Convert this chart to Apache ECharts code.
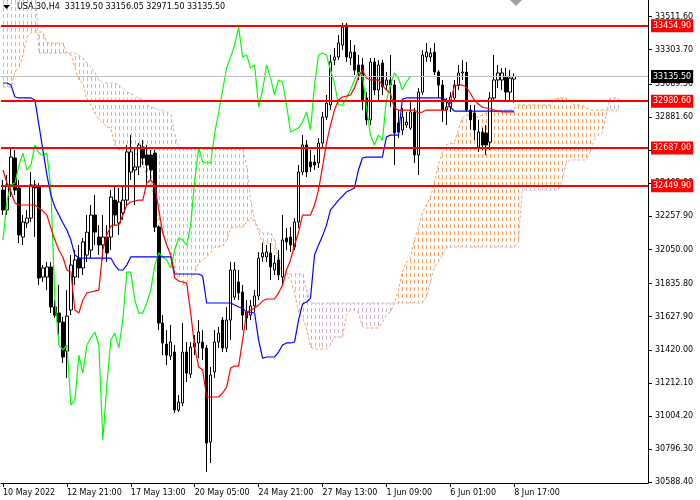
<!DOCTYPE html>
<html><head><meta charset="utf-8">
<script src="https://cdn.jsdelivr.net/npm/echarts@6/dist/echarts.min.js"></script>
<style>html,body{margin:0;padding:0;background:#fff}#c{width:700px;height:500px}</style>
</head><body><div id="c"></div>
<script>
const FONT = 'DejaVu Sans';
const symbolName = 'USA.30,H4';
const timeLabels = ['10 May 2022','12 May 21:00','17 May 13:00','20 May 05:00','24 May 21:00','27 May 13:00','1 Jun 09:00','6 Jun 01:00','8 Jun 17:00'];
const priceTicks = [30588.4,30796.3,31004.2,31212.1,31420.0,31627.9,31835.8,32050.0,32257.9,32465.8,32673.7,32881.6,33089.5,33303.7,33511.6];
const levels = [33454.90, 32980.60, 32687.00, 32449.90];
const lastPrice = 33135.50;

const opens = [32423,32298,32455,32624,32436,32128,32216,32247,32455,32442,
31877,31877,31940,31689,31651,31594,31412,31670,31877,31996,
31934,32015,32046,32266,32128,32078,32128,32128,32360,32216,
32279,32360,32536,32549,32568,32693,32643,32643,32655,32191,
31588,31456,31381,31406,31042,31086,31406,31268,31437,31463,
31469,31431,30841,31281,31469,31607,31431,31607,31751,31846,
31783,31657,31638,31695,31758,32003,32003,32028,31921,31984,
31877,32122,32128,32065,32222,32536,32706,32599,32599,32593,
32718,32881,32957,33239,33258,33333,33459,33252,33289,33208,
33208,33001,32863,33227,33051,33220,33082,33114,33082,32844,
32800,32831,32812,32913,32643,33038,33258,33258,33289,33164,
33082,32925,32944,33001,33082,33158,33164,32925,32907,32693,
32787,32781,32724,33001,33114,33114,33133,33038,33119.5];
const closes = [32298,32455,32630,32423,32141,32222,32247,32455,32436,31871,
31934,31940,31689,31638,31594,31375,31632,31952,31984,31934,
32097,32159,32266,32159,32078,32128,32028,32379,32266,32348,
32360,32662,32662,32568,32706,32624,32580,32549,32191,31588,
31463,31387,31469,31042,31092,31406,31274,31437,31463,31532,
31431,30835,31262,31469,31525,31431,31607,31921,31921,31777,
31638,31620,31695,31758,31996,32028,32034,31940,31965,31890,
32109,32097,32078,32222,32536,32706,32536,32568,32580,32718,
32881,32969,33227,33258,33346,33446,33258,33289,33176,33158,
32988,32863,33227,33051,33208,33070,33114,33082,32781,32787,
32881,32850,32913,32643,33038,33271,33289,33283,33164,33082,
32925,32944,33007,33082,33158,33164,32925,32863,32800,32787,
32706,32706,33001,33114,33158,33158,33038,33126,33135.5];
const lows = [32266,32266,32379,32392,32090,32078,32185,32222,32128,31827,
31846,31795,31651,31620,31513,31337,31243,31638,31827,31871,
31890,31971,31996,32078,32015,31984,31971,32046,32203,32141,
32235,32329,32486,32329,32517,32580,32455,32486,32159,31544,
31387,31324,31356,31023,31030,31067,31218,31243,31387,31368,
31356,30653,30709,31243,31431,31406,31406,31481,31733,31733,
31544,31544,31607,31657,31733,31971,31971,31858,31890,31858,
31827,32046,32034,32046,32185,32517,32505,32536,32549,32561,
32693,32863,32925,33208,33239,33302,33227,33208,33145,33114,
32925,32831,32831,33020,32988,33020,33051,32944,32580,32750,
32768,32812,32800,32593,32517,33020,33227,33227,33145,33001,
32850,32831,32913,32976,33051,33114,32913,32800,32737,32662,
32674,32643,32674,32976,33063,33051,32988,32988,32971.5];
const highs = [32486,32517,32693,32674,32486,32266,32298,32536,32486,32467,
31952,31971,31971,31733,31827,31626,31795,32015,32046,32078,
32122,32266,32329,32392,32203,32266,32203,32423,32455,32436,
32455,32706,32768,32687,32718,32737,32706,32674,32674,32203,
31638,31544,31576,31450,31136,31588,31469,31469,31513,31607,
31544,31450,31312,31544,31563,31626,31689,31971,31971,31921,
31827,31733,31733,31795,32034,32090,32078,32090,32015,32046,
32266,32185,32191,32247,32580,32768,32737,32674,32643,32750,
32913,33020,33271,33315,33396,33472,33472,33365,33333,33271,
33252,33038,33252,33252,33239,33239,33164,33271,33114,32925,
32938,32913,32976,32938,33063,33302,33346,33315,33346,33176,
33114,33001,33038,33114,33208,33239,33227,32957,32957,32863,
32812,32831,33038,33271,33208,33189,33189,33176,33156.05];

const tenkan = [32549,32467,32411,32342,32329,32329,32329,32329,32329,32310,
32291,32266,32185,32109,32047,32003,31921,31908,31670,31651,
31733,31777,31783,31789,31795,32047,32141,32197,32203,32203,
32266,32329,32348,32354,32360,32360,32467,32486,32455,32298,
32153,32078,32015,31871,31852,31846,31839,31651,31437,31312,
31293,31124,31124,31124,31124,31149,31186,31306,31318,31318,
31481,31657,31670,31682,31701,31726,31739,31739,31739,31777,
31827,31921,31984,32078,32159,32266,32266,32266,32329,32423,
32568,32718,32831,32925,32988,33007,33013,33020,33063,33133,
33176,33126,33114,33114,33114,33082,33051,33032,32938,32925,
32925,32925,32925,32925,32907,32913,32925,32925,32925,32925,
32925,32925,32969,33076,33082,33082,33070,33032,32988,32963,
32944,32938,32932,32925,32919,32913,32913,32913,32913];
const kijun = [33095,33095,33082,33007,33001,33001,33001,33001,32988,32831,
32674,32517,32392,32316,32266,32216,32172,32109,32015,31996,
31996,31996,31996,31996,31996,31996,31996,31996,31952,31921,
31921,31952,32003,32003,32003,32003,32003,32003,32003,32003,
32003,32003,32003,31896,31896,31896,31896,31896,31896,31896,
31883,31714,31714,31714,31714,31714,31714,31714,31701,31689,
31682,31657,31657,31651,31481,31368,31375,31375,31375,31406,
31450,31463,31463,31469,31607,31708,31720,31745,32015,32078,
32134,32203,32298,32329,32360,32385,32411,32423,32436,32549,
32624,32630,32630,32630,32630,32630,32756,32768,32768,32768,
32994,33001,33001,33001,33001,33001,33001,33001,33001,33001,
33001,32988,32944,32919,32919,32919,32919,32919,32919,32919,
32919,32919,32919,32919,32919,32919,32919,32919,32919];
const chikou = [32109,32360,32455,32467,32580,32655,32549,32580,32706,32655,
32643,32655,32423,31733,31450,31419,31450,31073,31105,31387,
31274,31450,31494,31532,31450,30854,31199,31481,31525,31431,
31607,31908,31908,31733,31651,31651,31714,31795,31952,32028,
32003,31984,31934,32047,32122,32109,32078,32203,32486,32687,
32599,32593,32593,32781,32913,33051,33189,33258,33333,33446,
33258,33271,33189,33208,32944,33051,33208,33126,33020,33114,
33101,32957,32787,32800,32812,32850,32913,32800,33082,33271,
33283,33271,33176,33095,32957,32957,33001,33051,33114,33164,
33145,32944,32768,32706,32768,32737,32988,33082,33158,33126,
33051,33101,33135.5];
const spanA = [33070,33070,33070,33164,33189,33271,33384,33409,33415,33415,
33415,33346,33346,33346,33346,33346,33283,33271,33195,33114,
33095,32988,32957,32907,32863,32844,32819,32812,32706,32674,
32674,32674,32674,32662,32624,32580,32517,32455,32360,32235,
32153,32078,32015,31934,31858,31827,31846,31871,31902,31965,
31984,32003,32034,32065,32065,32072,32109,32185,32191,32191,
32191,32222,32241,32229,32159,32090,32090,32090,32065,31971,
31890,31890,31858,31777,31657,31620,31557,31437,31425,31425,
31425,31425,31450,31500,31500,31500,31638,31670,31670,31657,
31563,31557,31557,31557,31557,31594,31638,31657,31714,31795,
31908,31971,31996,32109,32185,32279,32329,32379,32467,32580,
32662,32706,32718,32718,32800,32875,32894,32894,32881,32881,
32894,32907,32913,32919,32925,32925,32925,32925,32938,32957,
32957,32957,32957,32957,32957,32957,32957,32957,32988,33001,
33001,33001,32976,32957,32957,32957,32938,32925,32925,32925,
32925,32925,32925,32925,32925];
const spanB = [33742,33742,33742,33742,33742,33742,33742,33742,33742,33283,
33283,33283,33283,33283,33283,33283,33283,33283,33283,33271,
33252,33220,33195,33158,33114,33095,33095,33095,33095,33082,
33063,33038,33032,33013,33001,32988,32963,32944,32938,32925,
32925,32913,32894,32768,32687,32681,32681,32681,32681,32681,
32681,32681,32681,32681,32681,32681,32681,32681,32681,32681,
32681,32580,32360,32235,32185,32153,32153,32153,32109,32015,
31934,31902,31896,31896,31896,31896,31795,31714,31714,31714,
31714,31714,31714,31714,31714,31714,31714,31714,31714,31714,
31714,31714,31714,31714,31714,31714,31714,31714,31714,31714,
31714,31714,31714,31714,31714,31714,31751,31846,31940,31971,
32015,32059,32065,32065,32065,32065,32065,32065,32065,32065,
32065,32065,32065,32065,32065,32065,32065,32065,32065,32090,
32423,32423,32423,32423,32423,32423,32423,32423,32423,32423,
32486,32593,32612,32612,32612,32612,32612,32662,32737,32768,
32781,32894,33001,33001,33001];

const NCAT = 162;
const cats = Array.from({length: NCAT}, (_, i) => String(i));
const candleData = opens.map((o, i) => [o, closes[i], lows[i], highs[i]]);
const cloudData = spanA.map((a, i) => [i, a, spanB[i]]);
const last = opens.length - 1;
const titleText = symbolName + '  ' + [opens[last], highs[last], lows[last], closes[last]].map(v => v.toFixed(2)).join(' ');

const chart = echarts.init(document.getElementById('c'), null, {renderer: 'canvas'});
const lbl = (txt, bg) => ({show: true, position: 'end', formatter: txt, color: '#fff', backgroundColor: bg,
  padding: [2, 2, 1, 2], fontFamily: FONT, fontSize: 8, lineHeight: 10, distance: 3});

chart.setOption({
  animation: false,
  backgroundColor: '#fff',
  grid: {left: -2, top: 0, width: 650, height: 483, containLabel: false},
  xAxis: {
    type: 'category', data: cats, boundaryGap: true,
    axisLine: {show: true, lineStyle: {color: '#000', width: 1}},
    axisTick: {show: true, alignWithLabel: true, length: 4, lineStyle: {color: '#000'},
      interval: (i) => i % 16 === 0 && i <= 128},
    axisLabel: {show: true, interval: (i) => i % 16 === 0 && i <= 128, align: 'left', margin: 6,
      color: '#000', fontFamily: FONT, fontSize: 8,
      formatter: (v, i) => timeLabels[i / 16] || ''},
    splitLine: {show: false}
  },
  yAxis: {
    type: 'value', position: 'right', min: 30584, max: 33616,
    axisLine: {show: true, lineStyle: {color: '#000', width: 1}},
    axisTick: {show: true, length: 4, lineStyle: {color: '#000'}, customValues: priceTicks},
    axisLabel: {show: true, color: '#000', fontFamily: FONT, fontSize: 8, margin: 7,
      customValues: priceTicks, formatter: (v) => Number(v).toFixed(2)},
    splitLine: {show: false}
  },
  graphic: [
    {type: 'polygon', shape: {points: [[3, 5], [10, 5], [6.5, 9]]}, style: {fill: '#000'}, z: 100},
    {type: 'text', x: 17, y: 3, style: {text: titleText, font: '8px "DejaVu Sans"', fill: '#000'}, z: 100},
    {type: 'polygon', shape: {points: [[510, 0], [522, 0], [516, 6]]}, style: {fill: '#a0a0a0'}, z: 100}
  ],
  series: [
    {
      type: 'custom', name: 'kumo', data: cloudData, z: 1, silent: true, clip: true,
      encode: {x: 0, y: [1, 2]},
      renderItem: (params, api) => {
        const i = api.value(0), a = api.value(1), b = api.value(2);
        const pa = api.coord([i, a]), pb = api.coord([i, b]);
        const top = Math.min(pa[1], pb[1]), bot = Math.max(pa[1], pb[1]);
        if (bot - top < 1) return null;
        const x = Math.round(pa[0]) + 0.5;
        const off = ((Math.round(top) % 7) + 7) % 7;
        return {type: 'line', shape: {x1: x, y1: top, x2: x, y2: bot},
          style: {stroke: a > b ? '#F4A460' : '#D2B0D2', lineWidth: 1, lineDash: [4, 3], lineDashOffset: off}};
      }
    },
    {type: 'line', name: 'spanA', data: spanA, showSymbol: false, z: 1, silent: true,
      lineStyle: {color: '#F4A460', width: 1, type: [3, 2]}},
    {type: 'line', name: 'spanB', data: spanB, showSymbol: false, z: 1, silent: true,
      lineStyle: {color: '#D2B0D2', width: 1, type: [3, 2]}},
    {type: 'line', name: 'price', data: [], z: 2, silent: true,
      markLine: {symbol: 'none', silent: true, animation: false,
        data: [{yAxis: lastPrice, lineStyle: {color: '#C0C0C0', width: 1, type: 'solid'}, label: lbl(lastPrice.toFixed(2), '#000')}]}},
    {type: 'candlestick', name: 'USA.30', data: candleData, barWidth: 3, z: 3,
      itemStyle: {color: '#fff', color0: '#000', borderColor: '#000', borderColor0: '#000', borderWidth: 1}},
    {type: 'line', name: 'chikou', data: chikou, showSymbol: false, z: 4, lineStyle: {color: '#00FF00', width: 1.2}},
    {type: 'line', name: 'kijun', data: kijun, showSymbol: false, z: 4, lineStyle: {color: '#0000FF', width: 1.2}},
    {type: 'line', name: 'tenkan', data: tenkan, showSymbol: false, z: 4, lineStyle: {color: '#FF0000', width: 1.2}},
    {type: 'line', name: 'levels', data: [], z: 5, silent: true,
      markLine: {symbol: 'none', silent: true, animation: false,
        data: levels.map(v => ({yAxis: v, lineStyle: {color: '#FF0000', width: 2, type: 'solid'}, label: lbl(v.toFixed(2), '#FF0000')}))}}
  ]
});
</script></body></html>
